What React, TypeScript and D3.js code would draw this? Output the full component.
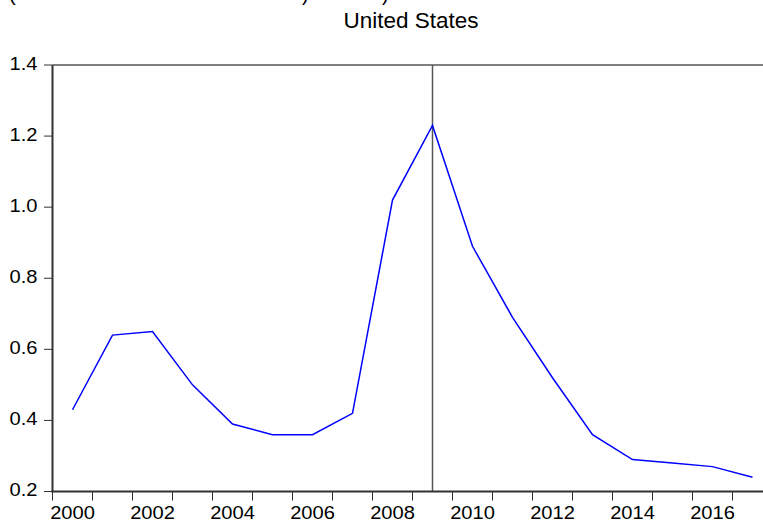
import React from "react";
import * as d3 from "d3";

const years = [2000, 2001, 2002, 2003, 2004, 2005, 2006, 2007, 2008, 2009, 2010, 2011, 2012, 2013, 2014, 2015, 2016, 2017];
const values = [0.43, 0.64, 0.65, 0.5, 0.39, 0.36, 0.36, 0.42, 1.02, 1.23, 0.89, 0.69, 0.52, 0.36, 0.29, 0.28, 0.27, 0.24];
const yTicks = [0.2, 0.4, 0.6, 0.8, 1.0, 1.2, 1.4];
const xLabelYears = [2000, 2002, 2004, 2006, 2008, 2010, 2012, 2014, 2016];
const markerYear = 2009;
const title = "United States";

const W = 763;
const H = 526;
const left = 52.5;
const top = 65;
const bottom = 491.5;
const right = 772.5;
const font = "'Liberation Sans', Arial, sans-serif";
const tickFont = 17.5;
const stretch = 1.15;

export default function App() {
  const x = d3.scaleLinear().domain([2000, 2018]).range([left, right]);
  const y = d3.scaleLinear().domain([0.2, 1.4]).range([bottom, top]);
  const line = d3
    .line<number>()
    .x((_, i) => x(years[i] + 0.5))
    .y((d) => y(d));
  const tickYears = d3.range(2000, 2019);

  return (
    <svg
      width={W}
      height={H}
      style={{ position: "absolute", left: 0, top: 0, display: "block", background: "#fff" }}
    >
      <rect x={0} y={0} width={W} height={H} fill="#fff" />
      {/* cut-off caption remnants */}
      <g fontFamily={font} fontSize={20} fill="#000">
        <text x={9} y={1}>(</text>
        <text x={302} y={1}>)</text>
        <text x={382} y={1}>)</text>
      </g>
      <text x={411} y={27.7} textAnchor="middle" fontFamily={font} fontSize={22.5} fill="#000">
        {title}
      </text>
      {/* top border */}
      <line x1={left} x2={W} y1={top} y2={top} stroke="#000" strokeWidth={1} />
      {/* marker line */}
      <line
        x1={x(markerYear + 0.5)}
        x2={x(markerYear + 0.5)}
        y1={top}
        y2={bottom}
        stroke="#555"
        strokeWidth={1.5}
      />
      {/* data line */}
      <path d={line(values) || ""} fill="none" stroke="#0000ff" strokeWidth={1.5} />
      {/* y axis */}
      <line x1={left} x2={left} y1={top} y2={bottom + 1} stroke="#333" strokeWidth={2} />
      {yTicks.map((t) => (
        <g key={t}>
          <line x1={left - 8.5} x2={left} y1={y(t)} y2={y(t)} stroke="#333" strokeWidth={1} />
          <text
            transform={`translate(37.5,${y(t) + 4.5}) scale(${stretch},1)`}
            textAnchor="end"
            fontFamily={font}
            fontSize={tickFont}
            fill="#000"
          >
            {t.toFixed(1)}
          </text>
        </g>
      ))}
      {/* x axis */}
      <line x1={left - 1} x2={W} y1={bottom} y2={bottom} stroke="#333" strokeWidth={2} />
      {tickYears.map((yr) => (
        <line
          key={yr}
          x1={x(yr)}
          x2={x(yr)}
          y1={bottom}
          y2={bottom + 9}
          stroke="#333"
          strokeWidth={1}
        />
      ))}
      {xLabelYears.map((yr) => (
        <text
          key={yr}
          transform={`translate(${x(yr + 0.5)},519) scale(${stretch},1)`}
          textAnchor="middle"
          fontFamily={font}
          fontSize={tickFont}
          fill="#000"
        >
          {yr}
        </text>
      ))}
    </svg>
  );
}
